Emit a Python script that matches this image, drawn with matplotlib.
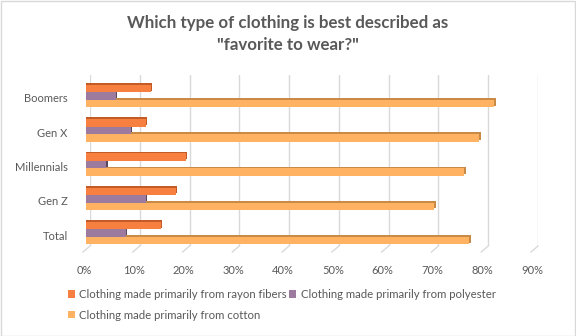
import matplotlib
matplotlib.use("Agg")
import matplotlib.pyplot as plt
from matplotlib.patches import Rectangle, Patch
import matplotlib.transforms as mtransforms
import numpy as np

plt.rcParams['font.family'] = ['Lato', 'DejaVu Sans']

categories = ["Total", "Gen Z", "Millennials", "Gen X", "Boomers"]
rayon = [15, 18, 20, 12, 13]
polyester = [8, 12, 4, 9, 6]
cotton = [77, 70, 76, 79, 82]
series_names = ["Clothing made primarily from rayon fibers",
                "Clothing made primarily from polyester",
                "Clothing made primarily from cotton"]
xticks = [0, 10, 20, 30, 40, 50, 60, 70, 80, 90]
title = 'Which type of clothing is best described as\n"favorite to wear?"'

face = ["#F77F3F", "#9C7B9F", "#FFB262"]
dark = ["#C35B27", "#5A465E", "#C88A45"]

W, H = 576, 336
fig = plt.figure(figsize=(W / 100, H / 100), dpi=100)
fig.patch.set_facecolor("white")
fig.add_artist(Rectangle((0.5 / W, 0.5 / H), 1 - 1.5 / W, 1 - 1.5 / H,
                         transform=fig.transFigure, fill=False,
                         edgecolor="#D9D9D9", linewidth=1))

ax_l, ax_r = 90 / W, 538 / W
ax_t, ax_b = 1 - 75 / H, 1 - 246 / H
ax = fig.add_axes([ax_l, ax_b, ax_r - ax_l, ax_t - ax_b])

px_x = 90 / 448.0          # data units per pixel (x)
unit_px = 34.25
px_y = 1 / unit_px          # data units per pixel (y)
ax.set_xlim(0, 90)
ax.set_ylim(-13 / unit_px, 4 + 21 / unit_px)

bh = 7.5 * px_y
shift = 4 * px_x
ypos = np.arange(len(categories))
offsets = [bh, 0, -bh]
series = [rayon, polyester, cotton]
# draw bottom to top: cotton, polyester, rayon
for k in [2, 1, 0]:
    vals = series[k]
    yc = ypos + offsets[k]
    ax.barh(yc + 1.6 * px_y, np.array(vals) + 1.6 * px_x, left=-shift,
            height=bh, color=dark[k], linewidth=0, zorder=3, clip_on=False)
    ax.barh(yc, vals, left=-shift, height=bh, color=face[k],
            linewidth=0, zorder=4, clip_on=False)

# gridlines with perspective floor ticks
ybot = ax.get_ylim()[0]
for xv in xticks:
    ax.axvline(xv, color="#D9D9D9", linewidth=1, zorder=1)
    ax.plot([xv, xv - 7 * px_x], [ybot, ybot - 6 * px_y], color="#D9D9D9",
            linewidth=1, clip_on=False, zorder=1)

ax.set_xticks(xticks)
ax.set_xticklabels([f"{v}%" for v in xticks])
ax.set_yticks(ypos - 2 * px_y)
ax.set_yticklabels(categories)
ax.tick_params(axis="both", length=0, colors="#595959", labelsize=8)
ax.tick_params(axis="x", pad=14)
ax.tick_params(axis="y", pad=16)
offset = mtransforms.ScaledTranslation(-6 / 100, 0, fig.dpi_scale_trans)
for lbl in ax.get_xticklabels():
    lbl.set_transform(lbl.get_transform() + offset)
for s in ax.spines.values():
    s.set_visible(False)
ax.set_facecolor("none")

fig.text(0.5, 1 - 34 / H, title, ha="center", va="center", fontsize=12.2,
         fontweight="bold", color="#595959", linespacing=1.45)

handles = [Patch(facecolor=face[0], edgecolor="none"),
           Patch(facecolor=face[2], edgecolor="none"),
           Patch(facecolor=face[1], edgecolor="none")]
labels = [series_names[0], series_names[2], series_names[1]]
leg = fig.legend(handles, labels, ncol=2, loc="upper left",
                 bbox_to_anchor=(68 / W, 1 - 289 / H), frameon=False,
                 fontsize=8.2, handlelength=0.6, handleheight=0.6,
                 handletextpad=0.4, columnspacing=0.2, labelspacing=0.85,
                 borderpad=0, borderaxespad=0)
for t in leg.get_texts():
    t.set_color("#595959")

fig.savefig("out.png", dpi=100, facecolor="white")
